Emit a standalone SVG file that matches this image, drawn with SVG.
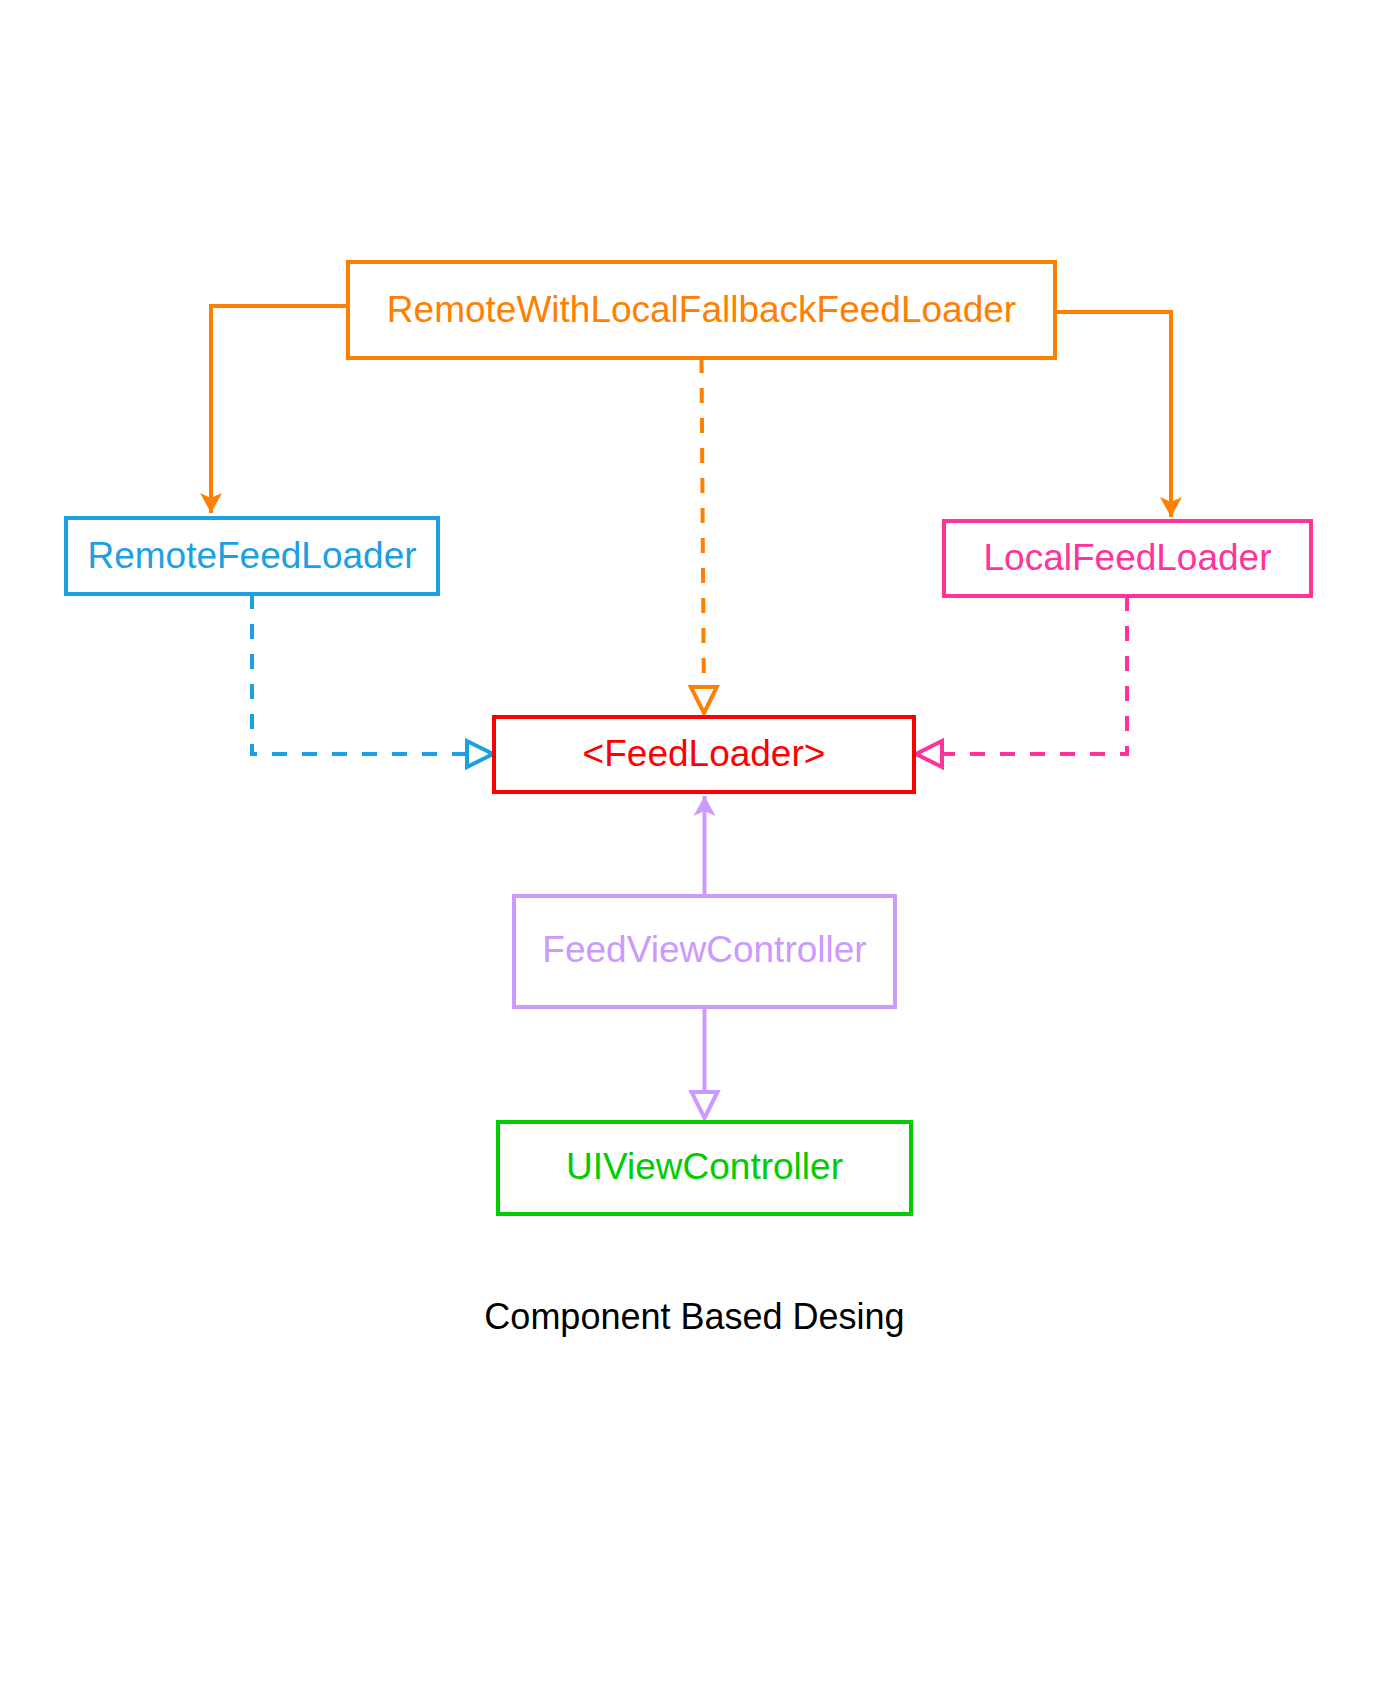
<svg xmlns="http://www.w3.org/2000/svg" width="1400" height="1700" viewBox="0 0 1400 1700">
<style>
.box{fill:#fff;stroke-width:4}
.lbl{font-family:"Liberation Sans",Arial,Helvetica,sans-serif;font-size:37px;text-anchor:middle}
.cap{font-family:"Liberation Sans",Arial,Helvetica,sans-serif;font-size:36px;text-anchor:middle}
.ln{fill:none;stroke-width:4}
.dash{stroke-dasharray:15 15}
</style>
<defs>
<marker id="tri-orange" markerUnits="userSpaceOnUse" markerWidth="34" markerHeight="34" refX="28" refY="15" orient="auto" overflow="visible"><path d="M2,2 L28,15 L2,28 Z" fill="#fff" stroke="#FF8000" stroke-width="4"/></marker>
<marker id="tri-blue" markerUnits="userSpaceOnUse" markerWidth="34" markerHeight="34" refX="28" refY="15" orient="auto" overflow="visible"><path d="M2,2 L28,15 L2,28 Z" fill="#fff" stroke="#1BA1E2" stroke-width="4"/></marker>
<marker id="tri-pink" markerUnits="userSpaceOnUse" markerWidth="34" markerHeight="34" refX="28" refY="15" orient="auto" overflow="visible"><path d="M2,2 L28,15 L2,28 Z" fill="#fff" stroke="#FF3399" stroke-width="4"/></marker>
<marker id="tri-purple" markerUnits="userSpaceOnUse" markerWidth="34" markerHeight="34" refX="28" refY="15" orient="auto" overflow="visible"><path d="M2,2 L28,15 L2,28 Z" fill="#fff" stroke="#CC99FF" stroke-width="4"/></marker>
<marker id="arr-orange" markerUnits="userSpaceOnUse" markerWidth="24" markerHeight="24" refX="20" refY="11" orient="auto" overflow="visible"><path d="M0,0 L20,11 L0,22 L5,11 Z" fill="#FF8000"/></marker>
<marker id="arr-purple" markerUnits="userSpaceOnUse" markerWidth="24" markerHeight="24" refX="20" refY="11" orient="auto" overflow="visible"><path d="M0,0 L20,11 L0,22 L5,11 Z" fill="#CC99FF"/></marker>
</defs>
<rect width="1400" height="1700" fill="#fff"/>
<g id="connectors">
<path class="ln" stroke="#FF8000" d="M348,306 H211 V513" marker-end="url(#arr-orange)"/>
<path class="ln" stroke="#FF8000" d="M1055,312 H1171 V517" marker-end="url(#arr-orange)"/>
<path class="ln dash" stroke="#FF8000" d="M701.5,358 L704,713" marker-end="url(#tri-orange)"/>
<path class="ln dash" stroke="#1BA1E2" d="M252,594 V754 H493" marker-end="url(#tri-blue)"/>
<path class="ln dash" stroke="#FF3399" d="M1127,596 V754 H916" marker-end="url(#tri-pink)"/>
<path class="ln" stroke="#CC99FF" d="M704.5,896 V796" marker-end="url(#arr-purple)"/>
<path class="ln" stroke="#CC99FF" d="M704.5,1007 V1118" marker-end="url(#tri-purple)"/>
</g>
<g id="node-fallback">
<rect class="box" stroke="#FF8000" x="348" y="262" width="707" height="96"/>
<text class="lbl" fill="#FF8000" x="701.5" y="322">RemoteWithLocalFallbackFeedLoader</text>
</g>
<g id="node-remote">
<rect class="box" stroke="#1BA1E2" x="66" y="518" width="372" height="76"/>
<text class="lbl" fill="#1BA1E2" x="252" y="568">RemoteFeedLoader</text>
</g>
<g id="node-local">
<rect class="box" stroke="#FF3399" x="944" y="521" width="367" height="75"/>
<text class="lbl" fill="#FF3399" x="1127.5" y="570">LocalFeedLoader</text>
</g>
<g id="node-feedloader">
<rect class="box" stroke="#FF0000" x="494" y="717" width="420" height="75"/>
<text class="lbl" fill="#FF0000" x="704" y="766">&lt;FeedLoader&gt;</text>
</g>
<g id="node-feedvc">
<rect class="box" stroke="#CC99FF" x="514" y="896" width="381" height="111"/>
<text class="lbl" fill="#CC99FF" x="704.5" y="962">FeedViewController</text>
</g>
<g id="node-uivc">
<rect class="box" stroke="#00CC00" x="498" y="1122" width="413" height="92"/>
<text class="lbl" fill="#00CC00" x="704.5" y="1179">UIViewController</text>
</g>
<text class="cap" fill="#000" x="694.5" y="1329">Component Based Desing</text>
</svg>
